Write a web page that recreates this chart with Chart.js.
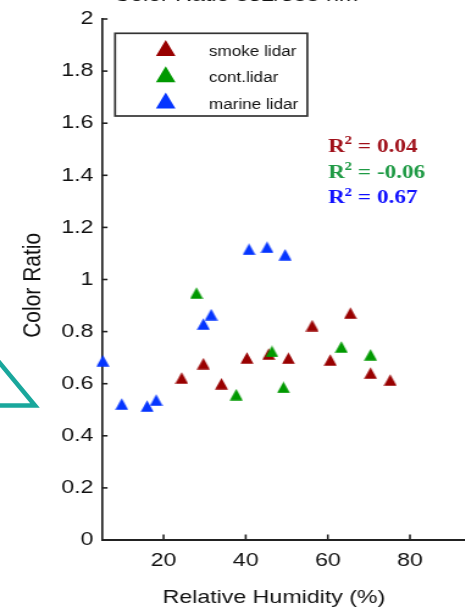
<!DOCTYPE html>
<html><head><meta charset="utf-8">
<script src="https://cdn.jsdelivr.net/npm/chart.js@4.4.1/dist/chart.umd.min.js"></script>
<style>
html,body{margin:0;padding:0;background:#fff;width:465px;height:613px;overflow:hidden;position:relative;}
#wrap{position:absolute;left:0;top:-20px;width:400px;height:640px;transform:scaleX(1.22);transform-origin:0 0;}
#c{display:block;}
svg{position:absolute;left:0;top:0;}
</style></head><body>
<div id="wrap"><canvas id="c" width="400" height="640"></canvas></div>
<svg width="465" height="613"><polyline points="-6,356 35,405.5 -6,405.5" fill="none" stroke="#19a79c" stroke-width="4.5" stroke-linejoin="miter"/></svg>
<script>
// ---- data ----
const seriesNames = ['smoke lidar', 'cont.lidar', 'marine lidar'];
const seriesColors = ['#990000', '#009900', '#0535ff'];
const smokeRH = [24.4, 29.7, 34.1, 40.3, 45.6, 50.4, 56.2, 60.6, 65.5, 70.4, 75.2];
const smokeCR = [0.622, 0.677, 0.600, 0.699, 0.714, 0.698, 0.823, 0.691, 0.871, 0.641, 0.614];
const contRH = [28.0, 37.7, 46.4, 49.2, 63.3, 70.4];
const contCR = [0.948, 0.558, 0.724, 0.586, 0.741, 0.711];
const marineRH = [5.2, 9.8, 16.0, 18.2, 29.7, 31.6, 40.8, 45.2, 49.6];
const marineCR = [0.688, 0.522, 0.514, 0.537, 0.829, 0.865, 1.116, 1.124, 1.095];
const xTicks = [20, 40, 60, 80];
const yTicks = [0, 0.2, 0.4, 0.6, 0.8, 1, 1.2, 1.4, 1.6, 1.8, 2];
const yTickLabels = ['0', '0.2', '0.4', '0.6', '0.8', '1', '1.2', '1.4', '1.6', '1.8', '2'];
const r2Values = ['0.04', '-0.06', '0.67'];
const r2Colors = ['#a0101a', '#1f9a45', '#1010ff'];
const titleText = 'Color Ratio 532/355 nm';
const xTitle = 'Relative Humidity (%)';
const yTitle = 'Color Ratio';

const SANS = '"Liberation Sans", Arial, sans-serif';
const SERIF = '"Liberation Serif", "Times New Roman", serif';

function drawTriPath(ctx, cx, cy, w, h, color) {
  ctx.beginPath();
  ctx.moveTo(cx, cy - h / 2);
  ctx.lineTo(cx + w / 2, cy + h / 2);
  ctx.lineTo(cx - w / 2, cy + h / 2);
  ctx.closePath();
  ctx.fillStyle = color;
  ctx.fill();
}
function makeTri(color, w, h) {
  const c = document.createElement('canvas');
  c.width = w; c.height = h;
  drawTriPath(c.getContext('2d'), w / 2, h / 2, w - 0.4, h - 0.4, color);
  return c;
}

const inwardTicks = {
  id: 'inwardTicks',
  beforeDatasetsDraw(chart) {
    const {ctx, chartArea: a, scales: {x, y}} = chart;
    ctx.save();
    ctx.strokeStyle = '#222';
    ctx.lineWidth = 1.6;
    x.ticks.forEach(t => {
      const px = x.getPixelForValue(t.value);
      ctx.beginPath(); ctx.moveTo(px, a.bottom); ctx.lineTo(px, a.bottom - 5.5); ctx.stroke();
    });
    y.ticks.forEach(t => {
      const py = y.getPixelForValue(t.value);
      ctx.beginPath(); ctx.moveTo(a.left, py); ctx.lineTo(a.left + 4.5, py); ctx.stroke();
    });
    ctx.restore();
  }
};

const legendBox = {
  id: 'legendBox',
  afterDraw(chart) {
    const ctx = chart.ctx;
    ctx.save();
    const bx = 94.3, by = 53.3, bw = 157.6, bh = 82.7;
    ctx.fillStyle = '#fff'; ctx.fillRect(bx, by, bw, bh);
    ctx.strokeStyle = '#333'; ctx.lineWidth = 1.7; ctx.strokeRect(bx, by, bw, bh);
    chart.data.datasets.forEach((ds, i) => {
      const cy = 68 + i * 26.3;
      drawTriPath(ctx, 135.8, cy, 16, 16, ds.backgroundColor);
      ctx.fillStyle = '#111';
      ctx.font = '14px ' + SANS;
      ctx.textBaseline = 'alphabetic'; ctx.textAlign = 'left';
      ctx.fillText(ds.label, 171.3, cy + 8);
    });
    ctx.restore();
  }
};

const r2Text = {
  id: 'r2Text',
  afterDraw(chart) {
    const ctx = chart.ctx;
    ctx.save();
    ctx.textBaseline = 'alphabetic'; ctx.textAlign = 'left';
    r2Values.forEach((v, i) => {
      const x0 = 268.9, base = 171.7 + i * 25.8;
      ctx.fillStyle = r2Colors[i];
      ctx.font = 'bold 19px ' + SERIF;
      ctx.fillText('R', x0, base);
      const w1 = ctx.measureText('R').width;
      ctx.font = 'bold 12px ' + SERIF;
      ctx.fillText('2', x0 + w1, base - 7.5);
      const w2 = ctx.measureText('2').width;
      ctx.font = 'bold 19px ' + SERIF;
      ctx.fillText(' = ' + v, x0 + w1 + w2, base);
    });
    ctx.restore();
  }
};

function pts(xs, ys) { return xs.map((x, i) => ({x: x, y: ys[i]})); }

const datasets = [
  {label: seriesNames[0], data: pts(smokeRH, smokeCR), order: 3},
  {label: seriesNames[1], data: pts(contRH, contCR), order: 2},
  {label: seriesNames[2], data: pts(marineRH, marineCR), order: 1}
].map((d, i) => Object.assign(d, {
  backgroundColor: seriesColors[i], borderColor: seriesColors[i],
  pointStyle: makeTri(seriesColors[i], 11, 12), pointRadius: 6, clip: false
}));

new Chart(document.getElementById('c'), {
  type: 'scatter',
  data: {datasets: datasets},
  options: {
    responsive: false, animation: false, devicePixelRatio: 1,
    layout: {padding: {left: 0, right: 13.5, top: 0, bottom: 0}},
    plugins: {
      legend: {display: false}, tooltip: {enabled: false},
      title: {display: true, text: titleText, color: '#111',
        font: {family: SANS, size: 19, weight: 'normal'}, padding: {top: 4.6, bottom: 11.6}}
    },
    scales: {
      x: {
        type: 'linear', min: 5, max: 95,
        afterBuildTicks: s => { s.ticks = xTicks.map(v => ({value: v})); },
        afterFit: s => { s.height = 80; },
        grid: {display: false, drawTicks: false},
        border: {display: true, color: '#222', width: 2},
        ticks: {color: '#111', font: {family: SANS, size: 19}, padding: 9, maxRotation: 0, autoSkip: false,
          callback: (v) => String(v)},
        title: {display: true, text: xTitle + '    ', color: '#111', font: {family: SANS, size: 19},
          padding: {top: 0, bottom: 10.6}}
      },
      y: {
        type: 'linear', min: 0, max: 2,
        afterBuildTicks: s => { s.ticks = yTicks.map(v => ({value: v})); },
        afterFit: s => { s.width = 83.6; },
        grid: {display: false, drawTicks: false},
        border: {display: true, color: '#222', width: 1.7},
        ticks: {color: '#111', font: {family: SANS, size: 19}, padding: 7, autoSkip: false,
          callback: (v, i) => yTickLabels[i]},
        title: {display: true, text: yTitle + '  ', color: '#111', font: {family: SANS, size: 21},
          padding: {top: 14.8, bottom: 0}}
      }
    }
  },
  plugins: [inwardTicks, legendBox, r2Text]
});
</script>
</body></html>
